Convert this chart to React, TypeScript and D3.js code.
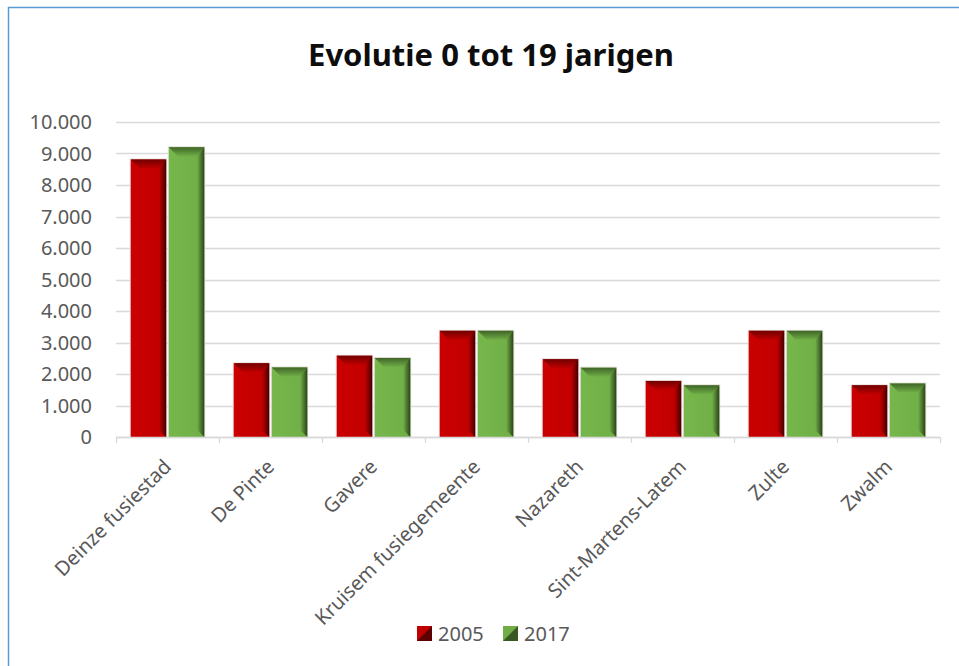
import React, { useEffect, useRef } from 'react';
import * as d3 from 'd3';

const categories = [
  'Deinze fusiestad',
  'De Pinte',
  'Gavere',
  'Kruisem fusiegemeente',
  'Nazareth',
  'Sint-Martens-Latem',
  'Zulte',
  'Zwalm',
];
const series = ['2005', '2017'];
const values2005 = [8810, 2340, 2580, 3370, 2470, 1780, 3370, 1640];
const values2017 = [9200, 2210, 2510, 3370, 2200, 1640, 3370, 1700];
const yTicks = [0, 1000, 2000, 3000, 4000, 5000, 6000, 7000, 8000, 9000, 10000];

const W = 959;
const H = 666;
const FONT = '"Noto Sans", "Open Sans", sans-serif';

// main face, dark edge, darkest edge
const palette: Record<string, [string, string, string]> = {
  '2005': ['#c00000', '#700000', '#450000'],
  '2017': ['#70ad47', '#3f6527', '#2b4419'],
};

const App: React.FC = () => {
  const ref = useRef<SVGSVGElement | null>(null);

  useEffect(() => {
    if (!ref.current) return;
    const svg = d3.select(ref.current);
    svg.selectAll('*').remove();

    const margin = { left: 116, right: 19, top: 122, bottom: 229 };
    const innerW = W - margin.left - margin.right;
    const innerH = H - margin.top - margin.bottom;

    const x = d3.scaleBand<string>().domain(categories).range([0, innerW]).paddingInner(0.286).paddingOuter(0.143);
    const xs = d3.scaleBand<string>().domain(series).range([0, x.bandwidth()]).paddingInner(0.07);
    const y = d3.scaleLinear().domain([0, 10000]).range([innerH, 0]);

    const defs = svg.append('defs');
    series.forEach((s) => {
      const [main, dark, darker] = palette[s];
      const top = defs.append('linearGradient').attr('id', `top-${s}`).attr('x1', 0).attr('y1', 0).attr('x2', 0).attr('y2', 1);
      top.append('stop').attr('offset', '0%').attr('stop-color', dark);
      top.append('stop').attr('offset', '100%').attr('stop-color', main);
      const right = defs.append('linearGradient').attr('id', `right-${s}`).attr('x1', 0).attr('y1', 0).attr('x2', 1).attr('y2', 0);
      right.append('stop').attr('offset', '0%').attr('stop-color', main);
      right.append('stop').attr('offset', '100%').attr('stop-color', darker);
      const face = defs.append('linearGradient').attr('id', `face-${s}`).attr('x1', 0).attr('y1', 0).attr('x2', 1).attr('y2', 0);
      face.append('stop').attr('offset', '0%').attr('stop-color', d3.color(main)!.brighter(0.15).formatHex());
      face.append('stop').attr('offset', '100%').attr('stop-color', main);
    });

    // chart frame (only top and left edges are visible)
    svg.append('rect')
      .attr('x', 8.5).attr('y', 7.5)
      .attr('width', W + 20).attr('height', H + 20)
      .attr('fill', '#fff')
      .attr('stroke', '#5b9bd5')
      .attr('stroke-width', 1.5);

    svg.append('text')
      .attr('x', 491).attr('y', 66)
      .attr('text-anchor', 'middle')
      .attr('font-family', FONT)
      .attr('font-weight', 'bold')
      .attr('font-size', 31)
      .attr('fill', '#0d0d0d')
      .text('Evolutie 0 tot 19 jarigen');

    const g = svg.append('g').attr('transform', `translate(${margin.left},${margin.top})`);

    // gridlines
    g.append('g')
      .selectAll('line')
      .data(yTicks)
      .enter()
      .append('line')
      .attr('x1', 0).attr('x2', innerW)
      .attr('y1', (d) => Math.round(y(d)) + 0.5)
      .attr('y2', (d) => Math.round(y(d)) + 0.5)
      .attr('stroke', '#d9d9d9')
      .attr('stroke-width', 1.3);

    // y labels
    g.append('g')
      .selectAll('text')
      .data(yTicks)
      .enter()
      .append('text')
      .attr('x', -24)
      .attr('y', (d) => y(d))
      .attr('dy', '0.35em')
      .attr('text-anchor', 'end')
      .attr('font-family', FONT)
      .attr('font-size', 20)
      .attr('fill', '#595959')
      .text((d) => d3.format(',')(d).replace(/,/g, '.'));

    // x tick marks at category boundaries
    const step = x.step();
    g.append('g')
      .selectAll('line')
      .data(d3.range(categories.length + 1))
      .enter()
      .append('line')
      .attr('x1', (i) => i * step + 0.5).attr('x2', (i) => i * step + 0.5)
      .attr('y1', innerH).attr('y2', innerH + 6)
      .attr('stroke', '#d9d9d9')
      .attr('stroke-width', 1.3);

    // bars
    const data = categories.flatMap((c, i) => [
      { c, s: '2005', v: values2005[i] },
      { c, s: '2017', v: values2017[i] },
    ]);
    const bars = g.append('g')
      .selectAll('g')
      .data(data)
      .enter()
      .append('g');

    const bTop = 9;
    const bRight = 7;
    bars.each(function (d) {
      const el = d3.select(this);
      const x0 = x(d.c)! + xs(d.s)!;
      const x1 = x0 + xs.bandwidth();
      const y0 = y(d.v);
      const y1 = y(0);
      el.append('rect')
        .attr('x', x0 - 1).attr('y', y0 - 1)
        .attr('width', x1 - x0 + 2).attr('height', y1 - y0 + 1)
        .attr('fill', '#e6dede');
      el.append('rect')
        .attr('x', x0).attr('y', y0)
        .attr('width', x1 - x0).attr('height', y1 - y0)
        .attr('fill', `url(#face-${d.s})`);
      el.append('polygon')
        .attr('points', [[x0, y0], [x1, y0], [x1 - bRight, y0 + bTop], [x0 + bTop, y0 + bTop]].map((p) => p.join(',')).join(' '))
        .attr('fill', `url(#top-${d.s})`);
      el.append('polygon')
        .attr('points', [[x1, y0], [x1, y1], [x1 - bRight, y1 - bRight], [x1 - bRight, y0 + bTop]].map((p) => p.join(',')).join(' '))
        .attr('fill', `url(#right-${d.s})`);
    });

    // axis line
    g.append('line')
      .attr('x1', 0).attr('x2', innerW)
      .attr('y1', innerH + 0.5).attr('y2', innerH + 0.5)
      .attr('stroke', '#d9d9d9')
      .attr('stroke-width', 1.3);

    // category labels
    g.append('g')
      .selectAll('text')
      .data(categories)
      .enter()
      .append('text')
      .attr('transform', (d) => `translate(${x(d)! + x.bandwidth() / 2},${innerH + 26}) rotate(-45)`)
      .attr('text-anchor', 'end')
      .attr('dy', '0.35em')
      .attr('font-family', FONT)
      .attr('font-size', 20)
      .attr('fill', '#595959')
      .text((d) => d);

    // legend
    const legend = svg.append('g').attr('transform', 'translate(417,626)');
    const legendX = [0, 86];
    series.forEach((s, i) => {
      const lg = legend.append('g').attr('transform', `translate(${legendX[i]},0)`);
      const [main, , darker] = palette[s];
      lg.append('rect').attr('width', 15).attr('height', 15).attr('fill', main);
      lg.append('polygon').attr('points', '15,0 15,15 0,15').attr('fill', darker).attr('opacity', 0.8);
      lg.append('text')
        .attr('x', 21).attr('y', 7.5)
        .attr('dy', '0.35em')
        .attr('font-family', FONT)
        .attr('font-size', 20)
        .attr('fill', '#595959')
        .text(s);
    });
  }, []);

  return (
    <svg
      ref={ref}
      width={W}
      height={H}
      style={{ position: 'absolute', left: 0, top: 0, background: '#fff' }}
    />
  );
};

export default App;
